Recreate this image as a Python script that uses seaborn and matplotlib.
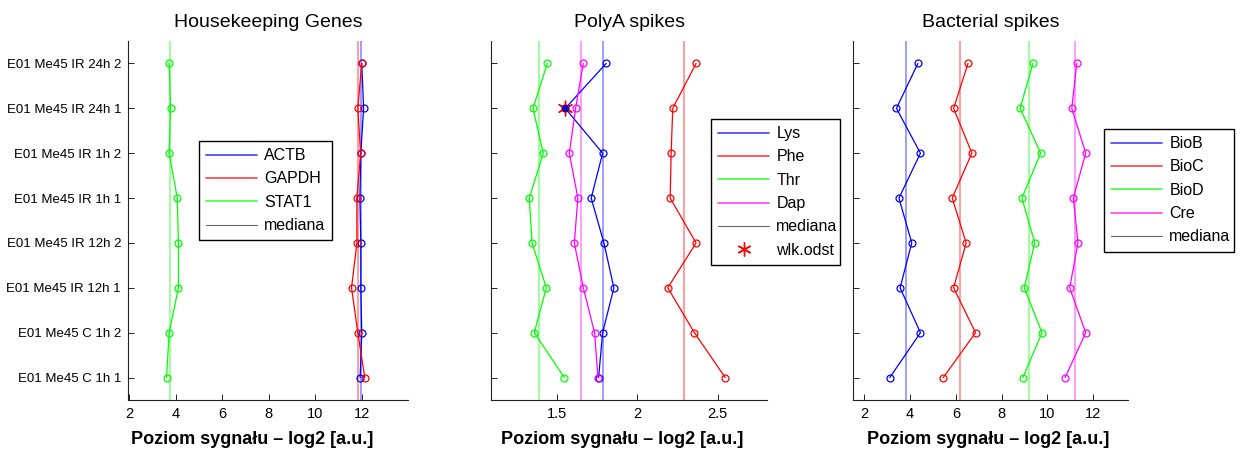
import numpy as np
import pandas as pd
import matplotlib
matplotlib.use("Agg")
import matplotlib.pyplot as plt
from matplotlib.lines import Line2D
import seaborn as sns

# Sample labels, listed from the bottom row (y = 1) to the top row (y = 8)
samples = [
    "E01 Me45 C 1h 1",
    "E01 Me45 C 1h 2",
    "E01 Me45 IR 12h 1",
    "E01 Me45 IR 12h 2",
    "E01 Me45 IR 1h 1",
    "E01 Me45 IR 1h 2",
    "E01 Me45 IR 24h 1",
    "E01 Me45 IR 24h 2",
]

# Housekeeping genes (log2 signal), same sample order
actb = [11.94, 12.01, 11.97, 11.97, 11.93, 11.97, 12.09, 12.01]
gapdh = [12.14, 11.84, 11.57, 11.80, 11.80, 11.96, 11.84, 12.01]
stat1 = [3.61, 3.72, 4.12, 4.12, 4.07, 3.72, 3.78, 3.72]

# PolyA spikes
lys = [1.759, 1.784, 1.854, 1.792, 1.713, 1.784, 1.552, 1.806]
phe = [2.546, 2.355, 2.189, 2.365, 2.204, 2.210, 2.220, 2.365]
thr = [1.546, 1.359, 1.434, 1.345, 1.328, 1.415, 1.351, 1.440]
dap = [1.755, 1.734, 1.664, 1.608, 1.630, 1.577, 1.616, 1.664]

# Bacterial spikes
biob = [3.11, 4.45, 3.56, 4.07, 3.51, 4.45, 3.40, 4.34]
bioc = [5.45, 6.86, 5.90, 6.45, 5.84, 6.70, 5.90, 6.53]
biod = [8.93, 9.77, 8.99, 9.45, 8.89, 9.71, 8.81, 9.37]
cre = [10.78, 11.68, 10.98, 11.34, 11.14, 11.68, 11.07, 11.29]

# Flagged outlier: (series, sample)
outlier_series = "Lys"
outlier_sample = "E01 Me45 IR 24h 1"

titles = ["Housekeeping Genes", "PolyA spikes", "Bacterial spikes"]
xlabel = "Poziom sygnału – log2 [a.u.]"

BLUE, RED, GREEN, MAGENTA = "#0000ff", "#ff0000", "#00ff00", "#ff00ff"

panels = [
    dict(series=[("ACTB", actb, BLUE), ("GAPDH", gapdh, RED), ("STAT1", stat1, GREEN)],
         xlim=(1.95, 14.0), xticks=[2, 4, 6, 8, 10, 12], xticklabels=["2", "4", "6", "8", "10", "12"],
         legend_box=(199, 141, 332, 242), xlabel_x=0.445),
    dict(series=[("Lys", lys, BLUE), ("Phe", phe, RED), ("Thr", thr, GREEN), ("Dap", dap, MAGENTA)],
         xlim=(1.09, 2.806), xticks=[1.5, 2.0, 2.5], xticklabels=["1.5", "2", "2.5"],
         legend_box=(711, 119, 840, 269), xlabel_x=0.475),
    dict(series=[("BioB", biob, BLUE), ("BioC", bioc, RED), ("BioD", biod, GREEN), ("Cre", cre, MAGENTA)],
         xlim=(1.5, 13.53), xticks=[2, 4, 6, 8, 10, 12], xticklabels=["2", "4", "6", "8", "10", "12"],
         legend_box=(1104, 129, 1234, 255), xlabel_x=0.49),
]

sns.set_theme(style="white")
plt.rcParams["font.family"] = ["Liberation Sans", "DejaVu Sans"]
plt.rcParams["axes.unicode_minus"] = False
plt.rcParams["text.color"] = "black"
plt.rcParams["axes.labelcolor"] = "black"

W, H = 1243, 453
fig = plt.figure(figsize=(W / 100, H / 100), dpi=100)
fig.patch.set_facecolor("white")

ax_px = [(128, 408), (491, 767), (853, 1128)]
top_px, bot_px = 41, 400
ypos = np.arange(1, len(samples) + 1)

for i, (panel, (x0, x1)) in enumerate(zip(panels, ax_px)):
    ax = fig.add_axes([x0 / W, 1 - bot_px / H, (x1 - x0) / W, (bot_px - top_px) / H])
    ax.set_facecolor("white")

    for name, vals, col in panel["series"]:
        df = pd.DataFrame({"x": vals, "y": ypos})
        sns.lineplot(data=df, x="x", y="y", sort=False, estimator=None, ax=ax,
                     color=col, lw=0.9, marker="o", markersize=5,
                     markerfacecolor="none", markeredgecolor=col, markeredgewidth=0.9,
                     legend=False, zorder=3)
        ax.axvline(np.median(vals), color=col, lw=1.2, alpha=0.45, zorder=2)

    handles = [Line2D([], [], color=c, lw=1.2, alpha=0.75) for _, _, c in panel["series"]]
    labels = [n for n, _, _ in panel["series"]]
    handles.append(Line2D([], [], color="#666666", lw=0.8))
    labels.append("mediana")

    if i == 1:
        names = [n for n, _, _ in panel["series"]]
        k = names.index(outlier_series)
        j = samples.index(outlier_sample)
        ox = panel["series"][k][1][j]
        odf = pd.DataFrame({"x": [ox], "y": [ypos[j]]})
        sns.scatterplot(data=odf, x="x", y="y", ax=ax, marker=(6, 2, 0), s=110,
                        color=RED, linewidth=1.0, zorder=4, legend=False)
        ax.plot([ox], [ypos[j]], "o", ms=4, color=BLUE, mec="#200060", zorder=5)
        handles.append(Line2D([], [], color=RED, lw=0, marker=(6, 2, 0), markersize=10,
                              markeredgewidth=1.0))
        labels.append("wlk.odst")

    ax.set_xlim(*panel["xlim"])
    ax.set_ylim(0.5, len(samples) + 0.5)
    ax.set_xticks(panel["xticks"])
    ax.set_xticklabels(panel["xticklabels"])
    ax.set_yticks(ypos)
    if i == 0:
        ax.set_yticklabels(samples)
    else:
        ax.set_yticklabels([])

    for s in ["top", "right"]:
        ax.spines[s].set_visible(False)
    for s in ["left", "bottom"]:
        ax.spines[s].set_color("#222222")
        ax.spines[s].set_linewidth(0.8)
    ax.tick_params(axis="both", direction="in", length=4, width=0.7, color="#222222",
                   labelcolor="black", left=True, bottom=True)
    ax.tick_params(axis="y", labelsize=9.5, pad=5)
    ax.tick_params(axis="x", labelsize=10.5, pad=5)
    ax.set_xlabel(xlabel, fontsize=13, fontweight="bold", color="black")
    ax.xaxis.set_label_coords(panel["xlabel_x"], -0.085)
    ax.set_ylabel("")
    ax.set_title(titles[i], fontsize=14, pad=10, color="black")
    ax.grid(False)

    lx0, ly0, lx1, ly1 = panel["legend_box"]
    leg = ax.legend(handles, labels, loc="upper left",
                    bbox_to_anchor=(lx0 / W, 1 - ly1 / H, (lx1 - lx0) / W, (ly1 - ly0) / H),
                    bbox_transform=fig.transFigure, mode="expand",
                    fontsize=11.5, frameon=True, fancybox=False, framealpha=1,
                    edgecolor="black", handlelength=3.2, handletextpad=0.44,
                    borderpad=0.45, labelspacing=0.52, borderaxespad=0)
    leg.get_frame().set_linewidth(1.0)
    for t in leg.get_texts():
        t.set_color("black")

fig.savefig("out.png", dpi=100, facecolor="white")
